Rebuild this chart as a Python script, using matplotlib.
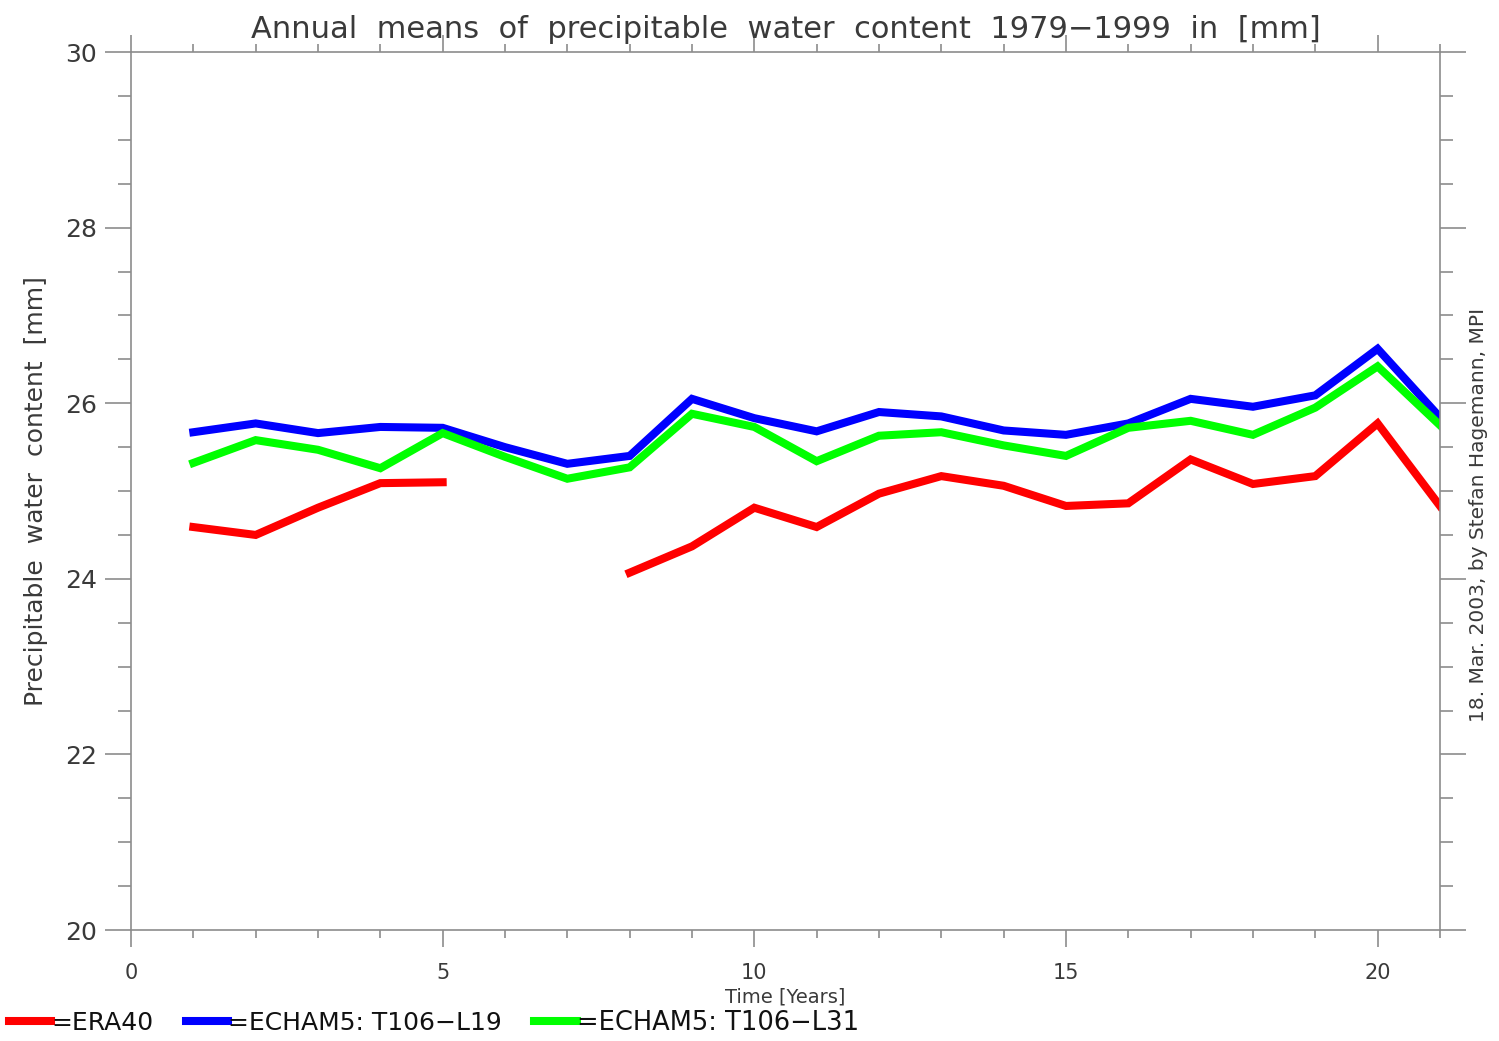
import numpy as np
import matplotlib
matplotlib.use("Agg")
import matplotlib.pyplot as plt
from matplotlib.ticker import MultipleLocator

# years since 1979 (1..21)
years = np.arange(1, 22)

# annual means of precipitable water [mm]
era40 = [24.59, 24.50, 24.81, 25.09, 25.10, np.nan, np.nan, 24.07, 24.37, 24.81,
         24.59, 24.97, 25.17, 25.06, 24.83, 24.86, 25.36, 25.08, 25.17, 25.77, 24.83]
t106_l19 = [25.67, 25.77, 25.66, 25.73, 25.72, 25.50, 25.31, 25.40, 26.05, 25.83,
            25.68, 25.90, 25.85, 25.69, 25.64, 25.77, 26.05, 25.96, 26.09, 26.62, 25.84]
t106_l31 = [25.32, 25.58, 25.47, 25.26, 25.66, 25.39, 25.14, 25.27, 25.88, 25.73,
            25.34, 25.63, 25.67, 25.52, 25.40, 25.72, 25.80, 25.64, 25.95, 26.42, 25.75]

labels = ["=ERA40", "=ECHAM5: T106\u2212L19", "=ECHAM5: T106\u2212L31"]
colors = ["#ff0000", "#0000ff", "#00ff00"]

axis_grey = "#8c8c8c"
text_grey = "#3a3a3a"

fig = plt.figure(figsize=(14.99, 10.41), dpi=100)
ax = fig.add_axes([0.0874, 0.1066, 0.8732, 0.8434])

lines = []
for vals, col, lab in zip([era40, t106_l19, t106_l31], colors, labels):
    ln, = ax.plot(years, vals, color=col, lw=5.8, label=lab, solid_joinstyle="miter")
    lines.append(ln)

ax.set_xlim(0, 21)
ax.set_ylim(20, 30)
ax.xaxis.set_major_locator(MultipleLocator(5))
ax.xaxis.set_minor_locator(MultipleLocator(1))
ax.yaxis.set_major_locator(MultipleLocator(2))
ax.yaxis.set_minor_locator(MultipleLocator(0.5))

for sp in ax.spines.values():
    sp.set_color(axis_grey)
    sp.set_linewidth(1.2)

ax.tick_params(axis="x", which="both", direction="out", top=True, bottom=True,
               color=axis_grey, width=1.2, labelcolor=text_grey)
ax.tick_params(axis="x", which="major", length=12.5, pad=11, labelsize=15)
ax.tick_params(axis="x", which="minor", length=6)
ax.tick_params(axis="y", which="both", direction="out", left=True, right=True,
               color=axis_grey, width=1.2, labelcolor=text_grey)
ax.tick_params(axis="y", which="major", length=18.7, pad=6, labelsize=18)
ax.tick_params(axis="y", which="minor", length=9.4)

ax.set_title("Annual  means  of  precipitable  water  content  1979\u22121999  in  [mm]",
             fontsize=22, color=text_grey, pad=10)
ax.set_ylabel("Precipitable  water  content  [mm]", fontsize=18, color=text_grey, labelpad=12)

fig.text(0.524, 0.0335, "Time [Years]", fontsize=14, color=text_grey, ha="center",
         va="bottom", family=["Liberation Sans Narrow", "DejaVu Sans"])
fig.text(0.986, 0.505, "18. Mar. 2003, by Stefan Hagemann, MPI", fontsize=14.5,
         color=text_grey, rotation=90, ha="center", va="center")

leg = fig.legend(handles=lines, loc="lower left", bbox_to_anchor=(-0.006, -0.012),
                 ncol=3, frameon=False, handlelength=1.7, handletextpad=0.0,
                 columnspacing=1.3, borderpad=0.2, fontsize=18)
for ln in leg.get_lines():
    ln.set_linewidth(5.8)
for txt in leg.get_texts():
    txt.set_color("#111111")
leg.get_texts()[2].set_family(["Liberation Sans Narrow", "DejaVu Sans"])
leg.get_texts()[2].set_fontsize(18.5)

fig.savefig("out.png", dpi=100)
